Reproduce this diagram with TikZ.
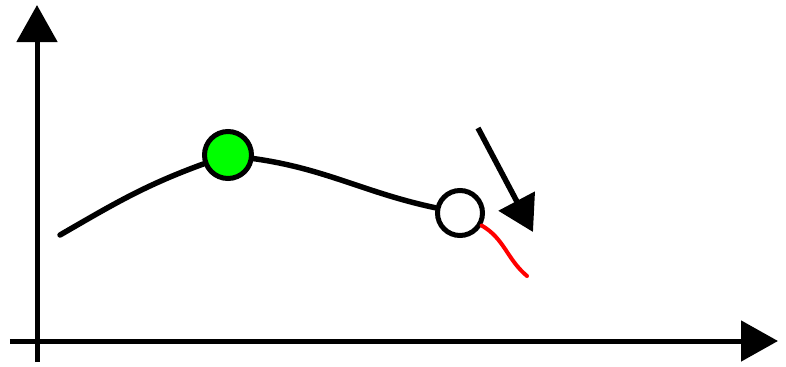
\documentclass[tikz,border=0pt]{standalone}
\usepackage{xcolor}
\usepackage{tikz}
\usetikzlibrary{arrows.meta}

\begin{document}
\begin{tikzpicture}[
    axis/.style={-{Triangle[length=7.4mm, width=8mm]}, line width=1mm},
    dot/.style={circle, draw, line width=1mm, minimum size=9.4mm, inner sep=0pt},
    path/.style={line width=1.1mm, line cap=round}
]
    \useasboundingbox (0,0) rectangle (15.72,7.32);

    % axes
    \coordinate (ybot) at (0.74,0.08);
    \coordinate (ytop) at (0.74,7.22);
    \coordinate (xleft) at (0.2,0.5);
    \coordinate (xright) at (15.56,0.5);
    \draw[axis] (ybot) -- (ytop);
    \draw[axis] (xleft) -- (xright);

    % states on the curve
    \coordinate (start) at (1.2,2.62);
    \node[dot, fill=green] (peak) at (4.56,4.22) {};
    \node[dot, fill=white, minimum size=9mm] (now) at (9.2,3.06) {};
    \draw[path] (start) to[out=30, in=200] (peak);
    \draw[path] (peak) to[out=-8, in=168] (now);

    % predicted drop
    \coordinate (redend) at (10.54,1.8);
    \draw[red, line width=0.8mm, line cap=round] (now.-30) to[out=-30, in=140] (redend);

    % push arrow
    \coordinate (pushfrom) at (9.56,4.76);
    \coordinate (pushto) at (10.66,2.68);
    \draw[-{Triangle[length=7mm, width=8mm]}, line width=1.1mm] (pushfrom) -- (pushto);
\end{tikzpicture}
\end{document}
